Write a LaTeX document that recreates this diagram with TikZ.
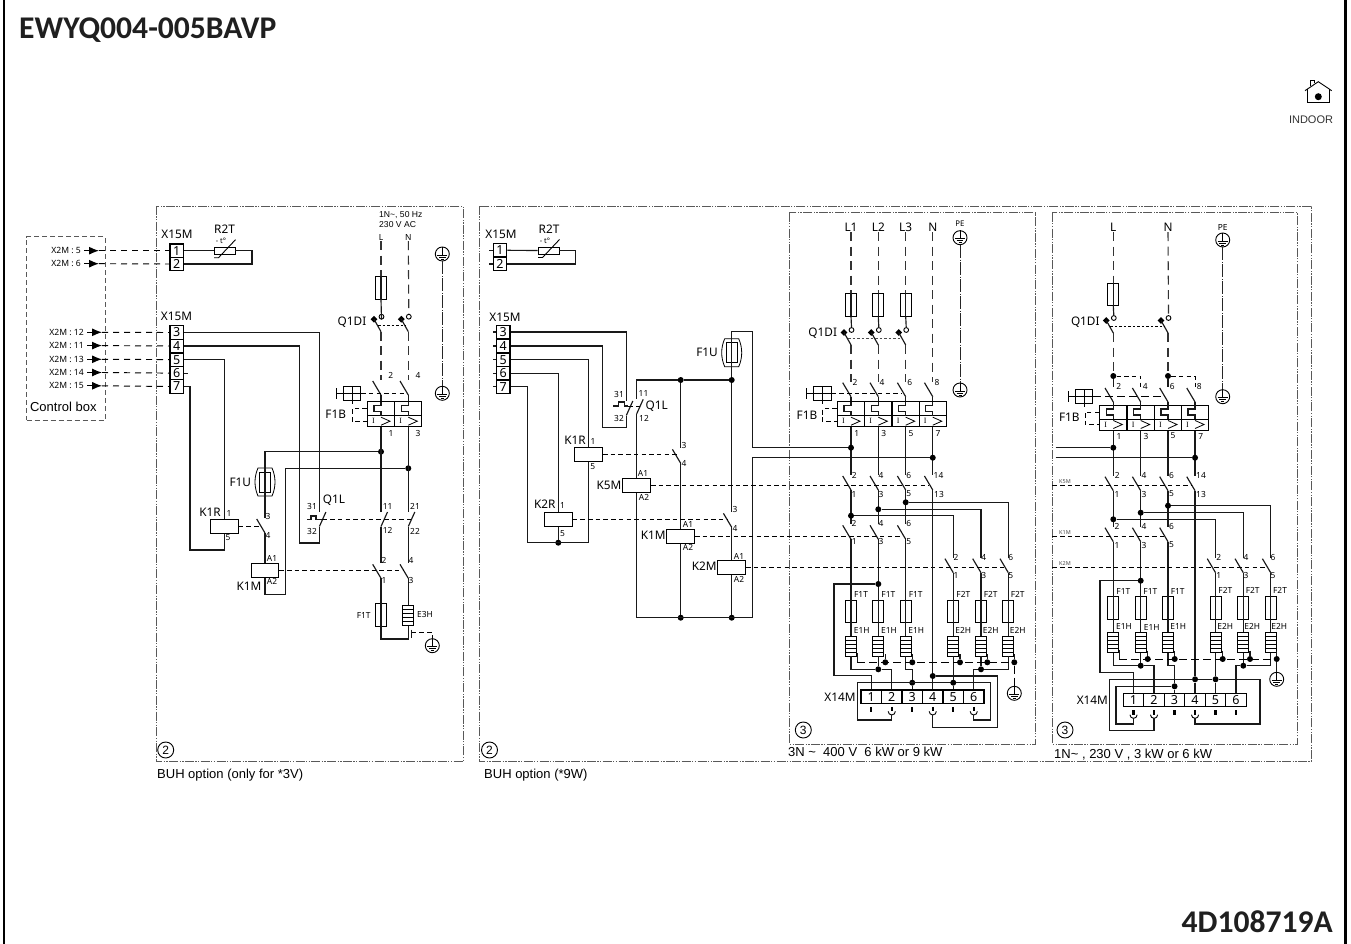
\documentclass[tikz,border=0pt]{standalone}
\usepackage{fontspec}
\setmainfont{Liberation Sans}
\newfontfamily\schem{Noto Sans}
\newfontfamily\heading{Carlito}
\newfontfamily\serifcap{Liberation Serif}
\usetikzlibrary{arrows.meta,shapes.geometric}

\definecolor{framegray}{gray}{0.35}
\tikzset{
	wire/.style={line width=1.15pt,draw=black!90},
	ctrldash/.style={line width=0.95pt,draw=black,dash pattern=on 4.5pt off 3.2pt},
	sigdash/.style={line width=0.95pt,draw=black,dash pattern=on 6pt off 5pt},
	longdash/.style={line width=1.1pt,draw=black!80,dash pattern=on 9pt off 5.5pt},
	peline/.style={line width=1pt,draw=black!85,dash pattern=on 13pt off 1.5pt on 1pt off 1.5pt},
	panel/.style={line width=0.8pt,draw=framegray,dash pattern=on 9pt off 1.4pt on 1.3pt off 1.4pt on 1.3pt off 1.4pt},
	termbox/.style={draw,line width=1.2pt,inner sep=0pt,minimum width=13.4pt,minimum height=13.4pt,font=\schem\fontsize{12.5}{12.5}\selectfont},
	stripbox/.style={draw,line width=1.2pt,inner sep=0pt,minimum width=20.5pt,minimum height=13.3pt,font=\schem\fontsize{12.5}{12.5}\selectfont},
	coilbox/.style={draw,line width=1.05pt,inner sep=0pt,minimum width=27.6pt,minimum height=14pt},
	fusebox/.style={draw,line width=0.85pt,inner sep=0pt,minimum width=11pt,minimum height=22.3pt},
	heatbox/.style={draw,line width=0.85pt,inner sep=0pt,minimum width=11pt,minimum height=20pt},
	brkbox/.style={draw,line width=1pt,inner sep=0pt,minimum width=27.3pt},
	earthbox/.style={draw,circle,line width=0.9pt,inner sep=0pt,minimum size=14pt},
	dot/.style={circle,fill=black,inner sep=0pt,minimum size=6pt},
	qcup/.style={draw,circle,line width=0.9pt,inner sep=0pt,minimum size=4.8pt},
	qdiam/.style={diamond,fill=black,inner sep=0pt,minimum size=7pt},
	biglab/.style={inner sep=0pt,font=\schem\fontsize{11.8}{12}\selectfont},
	numlab/.style={inner sep=0pt,font=\schem\fontsize{8.4}{9}\selectfont},
	tinylab/.style={inner sep=0pt,text=black!70,font=\schem\fontsize{5.5}{6}\selectfont},
	xmlab/.style={anchor=east,inner sep=3pt,font=\schem\fontsize{8.6}{9}\selectfont},
	arial/.style={inner sep=0pt,font=\fontsize{13}{14}\selectfont},
	arialsm/.style={inner sep=0pt,font=\fontsize{8.6}{9}\selectfont},
	sigtip/.style={line width=1pt,-{Latex[length=10pt,width=8pt]}},
	circnum/.style={draw,circle,line width=0.9pt,inner sep=0pt,minimum size=16pt,font=\fontsize{12}{12}\selectfont},
}

% symbols
\newcommand{\contactsw}[3]{
	\coordinate (#1) at (#2,#3);
	\coordinate (#1-u) at (#2,#3-15);
	\coordinate (#1-m) at (#2-4,#3-7);
	\draw[wire] (#1) -- (#2-8.3,#3-14);
}
\newcommand{\contactnc}[3]{
	\coordinate (#1) at (#2,#3);
	\coordinate (#1-l) at (#2,#3+14.5);
	\coordinate (#1-m) at (#2+3,#3+7.5);
	\draw[wire] (#2+6.5,#3) -- (#1-l);
}
\newcommand{\qswitch}[3]{
	\node[qcup] (#1) at (#2+0.5,#3) {};
	\node[qdiam] (#1-k) at (#2-7,#3+2.5) {};
	\coordinate (#1-b) at (#2,#3+15);
	\coordinate (#1-m) at (#2-3,#3+8.5);
	\draw[wire] (#1-k.center) -- (#1-b);
}
\newcommand{\brkpole}[3]{
	\node[brkbox,minimum height=14pt] (#1-a) at (#2,#3+7) {};
	\node[brkbox,minimum height=11pt] (#1-b) at (#2,#3+19.5) {};
	\node[inner sep=0pt,font=\serifcap\fontsize{8}{8}\selectfont] (#1-i) at (#2-7.5,#3+19.5) {I};
	\draw[wire] (#2,#3) -- ++(0,4) -- ++(-7,0) -- ++(0,6) -- ++(7,0) -- ++(0,4);
	\draw[line width=0.8pt] (#2,#3+15.5) -- ++(9,4) -- ++(-9,4);
}
\newcommand{\fusebar}[3]{
	\node[fusebox] (#1) at (#2,#3) {};
	\draw[wire] (#1.north) -- (#1.south);
}
\newcommand{\heatbar}[3]{
	\node[heatbox] (#1) at (#2,#3) {};
	\foreach \h in {-6,-2,2,6} \draw[line width=0.8pt] (#2-5.5,#3+\h) -- (#2+5.5,#3+\h);
}
\newcommand{\earthsym}[3]{
	\node[earthbox] (#1) at (#2,#3) {};
	\draw[line width=0.8pt] (#1.north) -- (#2,#3+1);
	\draw[line width=0.8pt] (#2-5,#3+1) -- (#2+5,#3+1);
	\draw[line width=0.8pt] (#2-3.3,#3+3) -- (#2+3.3,#3+3);
	\draw[line width=0.8pt] (#2-1.5,#3+5) -- (#2+1.5,#3+5);
}
\newcommand{\handlebox}[3]{
	\node[draw,line width=0.9pt,inner sep=0pt,minimum width=17.4pt,minimum height=14pt] (#1) at (#2,#3) {};
	\draw[line width=0.9pt] (#2,#3-7) -- (#2,#3+10);
	\draw[line width=0.9pt] (#1.west) -- (#1.east);
	\draw[line width=0.9pt] (#1.west) -- ++(-6.5,0) ++(0,-5.5) -- ++(0,11);
}
\newcommand{\fuseu}[3]{
	\node[draw,line width=0.9pt,inner sep=0pt,minimum width=11pt,minimum height=20pt] (#1) at (#2,#3) {};
	\draw[line width=0.8pt] (#2-7,#3-14) .. controls (#2-11,#3-5) and (#2-11,#3+5) .. (#2-7,#3+14) -- (#2+7,#3+14) .. controls (#2+11,#3+5) and (#2+11,#3-5) .. (#2+7,#3-14) -- cycle;
	\draw[wire] (#1.north) -- (#1.south);
}
\newcommand{\rtherm}[3]{
	\node[draw,line width=0.9pt,inner sep=0pt,minimum width=21pt,minimum height=7pt] (#1) at (#2,#3) {};
	\draw[line width=0.9pt] (#2-10.5,#3+7) -- (#2-6,#3+7) -- (#2+11,#3-11);
	\node[inner sep=0pt,font=\schem\fontsize{7.5}{8}\selectfont] (#1-t) at (#2-3.5,#3-9.5) {- t°};
}
\newcommand{\stubterm}[1]{
	\draw[line width=2.2pt] (#1.south) ++(0,3) -- ++(0,5);
}
\newcommand{\cupterm}[2]{
	\draw[line width=2.2pt] (#2.south) ++(0,3) -- ++(0,4.5);
	\draw[line width=0.9pt] (#2.south) ++(-3.6,7.5) arc[start angle=180,end angle=360,radius=3.6pt];
	\coordinate (#1) at ([yshift=-11pt]#2.south);
}

\begin{document}
\begin{tikzpicture}[x=1pt,y=-1pt]
	\useasboundingbox (0,0) rectangle (1351,944);
	\fill[white] (0,0) rectangle (1351,944);
	% sheet
	\coordinate (sheetla) at (4,0);
	\coordinate (sheetlb) at (4,944);
	\coordinate (sheetra) at (1345.5,0);
	\coordinate (sheetrb) at (1345.5,944);
	\draw[line width=2pt] (sheetla) -- (sheetlb);
	\draw[line width=3pt] (sheetra) -- (sheetrb);
	\node[anchor=west,inner sep=0pt,text=black!88,font=\heading\bfseries\fontsize{31.6}{32}\selectfont] (title) at (19,30.5) {EWYQ004-005BAVP};
	\node[anchor=east,inner sep=0pt,text=black!88,font=\heading\bfseries\fontsize{31.6}{32}\selectfont] (docnum) at (1333,922) {4D108719A};
	% house
	\draw[line width=0.9pt] (1307.5,89) -- (1307.5,102.7) -- (1329.3,102.7) -- (1329.3,89);
	\draw[line width=0.9pt] (1305,90.7) -- (1318.3,81.7) -- (1331.7,90.7);
	\draw[line width=0.8pt] (1310,86) -- (1310,80.7) -- (1314.3,80.7) -- (1314.3,83.5);
	\node[circle,fill=black,inner sep=0pt,minimum size=7pt] (housedot) at (1318.3,96.7) {};
	\node[inner sep=0pt,text=black!80,font=\fontsize{11}{11}\selectfont] (indoor) at (1311,119.5) {INDOOR};

	% panels
	\node[panel,draw,dash pattern=on 5pt off 3pt,line width=0.8pt,minimum width=78.6pt,minimum height=183.3pt,inner sep=0pt] (ctrlbox) at (66,328.3) {};
	\node[arial] (ctrltxt) at (63.3,406.7) {Control box};
	\draw[panel] (156,206) rectangle (463,761.7);
	\draw[panel] (479,206) rectangle (1311,761.7);
	\draw[panel] (789.3,212.7) rectangle (1035.7,744);
	\draw[panel] (1052.3,212.7) rectangle (1297.7,744);
	\node[arial,anchor=west] (buha) at (157,775) {BUH option (only for *3V)};
	\node[arial,anchor=west] (buhb) at (484,775) {BUH option (*9W)};
	\node[arial,anchor=west] (sizec) at (788,752) {3N \textasciitilde{}\ \ 400 V\ \ 6 kW or 9 kW};
	\node[arial,anchor=west] (sized) at (1054,754.5) {1N\textasciitilde{} , 230 V , 3 kW or 6 kW};
	\node[circnum] (circa) at (165.7,750) {2};
	\node[circnum] (circb) at (489.5,750) {2};
	\node[circnum] (circc) at (803.3,730) {3};
	\node[circnum] (circd) at (1065,730) {3};

	% ---------- left panel
	\foreach \n/\y in {1/250.7,2/264,3/332.5,4/346,5/359.6,6/373.1,7/386.5}
		\node[termbox] (a\n) at (176.7,\y) {\n};
	\foreach \n/\x/\y/\t in {1/84/250.7/5,2/84/263.7/6,3/87/332.3/12,4/87/345.6/11,5/87/359.3/13,6/87/372.5/14,7/87/385.8/15}{
		\node[xmlab] (xm\n) at (\x,\y) {X2M : \t};
		\coordinate (tip\n) at (\x+15,\y);
		\draw[sigtip] (xm\n.east) -- (tip\n);
		\draw[sigdash] (tip\n) -- (a\n.west);
	}
	\foreach \x/\y/\t [count=\i] in {177/234.5/X15M,176.5/316.5/X15M,224.5/229/R2T,240.3/482/F1U,334/500.7/Q1L,210/512.7/K1R,249/586.7/K1M,352/322.7/Q1DI,335.7/414.5/F1B}
		\node[biglab] (abig\i) at (\x,\y) {\t};
	\foreach \x/\y/\t [count=\i] in {390.7/375/2,418/375/4,391/433/1,418/433/3,229/513/1,228/538/5,268/516/3,268/535/4,272/558/A1,272/581/A2,312/506/31,312/531/32,387.7/506/11,387.7/530.7/12,415/506/21,415/531/22,384/560/2,411/560/4,384/580/1,411/580/3,363.7/615/F1T,425/614.7/E3H}
		\node[numlab] (anum\i) at (\x,\y) {\t};
	\node[arialsm,anchor=west] (asupa) at (379,215) {1N\textasciitilde{}, 50 Hz};
	\node[arialsm,anchor=west] (asupb) at (379,225) {230 V AC};
	\node[numlab] (aL) at (381,238) {L};
	\node[numlab] (aN) at (408.3,238) {N};
	% thermistor
	\rtherm{ar}{224.5}{250.7}
	\coordinate (arc) at (252,250.7);
	\draw[wire] (a1.east) -- (ar.west);
	\draw[wire] (ar.east) -- (arc) |- (a2.east);
	% supply
	\fusebar{af}{381}{288}
	\qswitch{aqa}{381}{316.7}
	\qswitch{aqb}{408.3}{316.7}
	\draw[ctrldash,dash pattern=on 2.5pt off 2pt] (aqa-m) -- (aqb-m);
	\contactsw{asa}{381}{395}
	\contactsw{asb}{408.3}{395}
	\draw[longdash] (aL.south) -- (af.north);
	\draw[wire] (af.south) -- (aqa.south);
	\draw[longdash] (aN.south) -- (aqb.north);
	\draw[longdash] (aqa-b) -- (asa-u);
	\draw[longdash] (aqb-b) -- (asb-u);
	\brkpole{apa}{381}{401.7}
	\brkpole{apb}{408.3}{401.7}
	\draw[wire] (asa) -- (apa-a.north);
	\draw[wire] (asb) -- (apb-a.north);
	\handlebox{ah}{352}{393.7}
	\draw[ctrldash] (ah.east) -- (asb-m |- ah.east);
	\coordinate (abr) at (352,414);
	\draw[ctrldash] (apa-a.west) -| (abr) |- (apa-b.west);
	% earth
	\earthsym{aea}{442.3}{254}
	\earthsym{aeb}{442.3}{393.3}
	\draw[peline] (aea.south) -- (aeb.north);
	% thermal and power lines
	\node[dot] (ada) at (381,451.7) {};
	\node[dot] (adb) at (408.3,468.3) {};
	\contactnc{ana}{381}{512}
	\contactnc{anb}{408.3}{512}
	\draw[wire] (apa-b.south) -- (ana);
	\draw[wire] (apb-b.south) -- (anb);
	\contactsw{aka}{381}{578.3}
	\contactsw{akb}{408.3}{578.3}
	\draw[wire] (ana-l) -- (aka-u);
	\draw[wire] (anb-l) -- (akb-u);
	\fusebar{aft}{381}{615}
	\heatbar{ahe}{408.3}{615.3}
	\draw[wire] (aka) -- (aft.north);
	\draw[wire] (akb) -- (ahe.north);
	\coordinate (ahc) at (408.3,639);
	\draw[wire] (aft.south) |- (ahc) -- (ahe.south);
	\coordinate (aet) at (411.7,632.5);
	\earthsym{aec}{432.3}{645.7}
	\draw[wire] (411.7,629.5) -- (411.7,638);
	\draw[ctrldash] (aet) -| (aec.north);
	% control lines
	\contactnc{aql}{319.4}{512}
	\coordinate (aqc) at (299.3,543);
	\draw[wire] (a3.east) -| (aql);
	\draw[wire] (a4.east) -| (aqc) -| (aql-l);
	\coordinate (ath) at (307,519.5);
	\draw[wire] (ath) -- ++(4,0) -- ++(0,-3.5) -- ++(5,0) -- ++(0,3.5) -- ++(5.5,0);
	\draw[ctrldash] (aql-m |- ana-m) -- (anb-m);
	\node[coilbox] (ak1r) at (224.3,526.3) {};
	\coordinate (akl) at (190,550);
	\draw[wire] (a5.east) -| (ak1r.north);
	\draw[wire] (a7.east) -| (akl) -| (ak1r.south);
	\draw[wire] (a6.east) -- ++(4,0);
	\fuseu{afu}{265}{482}
	\draw[wire] (ada) -| (afu.north);
	\contactsw{ac3}{265}{533}
	\draw[wire] (afu.south) -- (ac3-u);
	\node[coilbox] (ak1m) at (265,570.3) {};
	\draw[wire] (ac3) -- (ak1m.north);
	\coordinate (akr) at (285.7,594.3);
	\draw[wire] (ak1m.south) |- (akr) |- (adb);
	\draw[ctrldash] (ak1r.east) -- (ac3-m |- ak1r.east);
	\draw[ctrldash] (ak1m.east) -- (akb-m |- ak1m.east);

	% ---------- middle panel
	\foreach \n/\y in {1/250.3,2/264}{
		\node[termbox] (b\n) at (500,\y) {\n};
		\draw[wire] (b\n.west) -- ++(-3.5,0);
	}
	\foreach \n/\y in {3/332,4/346,5/359.6,6/373.3,7/386.8}{
		\node[termbox] (b\n) at (503.3,\y) {\n};
		\draw[wire] (b\n.west) -- ++(-3.5,0);
	}
	\foreach \x/\y/\t [count=\i] in {501/234/X15M,505/317.5/X15M,549/229.5/R2T,656.7/406.7/Q1L,575/440.7/K1R,544.7/504.3/K2R,609/485.5/K5M,653.3/535.5/K1M,704.3/566.5/K2M,707/352.7/F1U}
		\node[biglab] (bbig\i) at (\x,\y) {\t};
	\foreach \x/\y/\t [count=\i] in {593/441/1,592.7/467/5,562.5/505.7/1,562.5/533.7/5,619/394/31,619/418/32,643.5/393/11,644/418/12,684/445/3,684/463.5/4,643/473.5/A1,644/497.5/A2,688/524/A1,688/547.5/A2,735/509.5/3,735/528/4,739/556/A1,739/579/A2}
		\node[numlab] (bnum\i) at (\x,\y) {\t};
	\rtherm{br}{548.5}{250.5}
	\coordinate (brc) at (575.7,250.5);
	\draw[wire] (b1.east) -- (br.west);
	\draw[wire] (br.east) -- (brc) |- (b2.east);
	% coils
	\node[coilbox] (bk1r) at (588.7,454.7) {};
	\node[coilbox] (bk2r) at (558.3,519.7) {};
	\node[coilbox] (bk5m) at (636.7,485.3) {};
	\node[coilbox] (bk1m) at (680.7,536.3) {};
	\node[coilbox] (bk2m) at (731.7,567.3) {};
	\node[dot] (bdr) at (558.3,542.7) {};
	\coordinate (bcl) at (527.7,542.7);
	\coordinate (bcr) at (588.7,542.7);
	\draw[wire] (b5.east) -| (bk1r.north);
	\draw[wire] (b6.east) -| (bk2r.north);
	\draw[wire] (bk2r.south) -- (bdr);
	\draw[wire] (b7.east) -| (bcl) -- (bcr) -- (bk1r.south);
	% overload relay
	\contactnc{bql}{626.3}{401}
	\contactnc{bqn}{636.7}{399.3}
	\coordinate (bqc) at (602.3,427.7);
	\draw[wire] (b3.east) -| (bql);
	\draw[wire] (b4.east) -| (bqc) -| (bql-l);
	\coordinate (bth) at (613.3,406);
	\draw[wire] (bth) -- ++(5.5,0) -- ++(0,-4) -- ++(5.5,0) -- ++(0,4) -- ++(4,0);
	\coordinate (bte) at (628.3,406);
	\draw[ctrldash] (bte) -- (bqn-m |- bte);
	% feed
	\node[dot] (bda) at (680.7,380) {};
	\node[dot] (bdb) at (731.7,380) {};
	\draw[wire] (bdb) -- (bda) -| (bqn);
	\draw[wire] (bqn-l) -- (bk5m.north);
	\contactsw{bca}{680.7}{463.3}
	\contactsw{bcb}{731.7}{527.3}
	\draw[wire] (bda) -- (bca-u);
	\draw[wire] (bdb) -- (bcb-u);
	\draw[wire] (bca) -- (bk1m.north);
	\draw[wire] (bcb) -- (bk2m.north);
	\fuseu{bfu}{731.7}{352.7}
	\draw[wire] (bdb) -- (bfu.south);
	\coordinate (bft) at (752.3,331.7);
	\coordinate (bfb) at (752.3,617.7);
	\node[dot] (bra) at (680.7,617.7) {};
	\node[dot] (brb) at (731.7,617.7) {};
	\draw[wire] (bk5m.south) |- (bfb);
	\draw[wire] (bk1m.south) -- (bra);
	\draw[wire] (bk2m.south) -- (brb);
	\draw[ctrldash] (bk1r.east) -- (bca-m |- bk1r.east);
	\draw[ctrldash] (bk2r.east) -- (bcb-m |- bk2r.east);

	% ---------- 3N panel
	\foreach \n/\x/\t in {1/851/L1,2/878.3/L2,3/905.7/L3}{
		\node[biglab] (cL\n) at (\x,227.7) {\t};
		\fusebar{cf\n}{\x}{304.8}
		\qswitch{cq\n}{\x}{330}
		\draw[longdash] (cL\n.south) -- (cf\n.north);
		\draw[wire] (cf\n.south) -- (cq\n.north);
	}
	\node[biglab] (cL4) at (932.75,227.7) {N};
	\draw[ctrldash,dash pattern=on 2.5pt off 2pt,draw=black!70] (cq1-m) -- (cq3-m);
	\foreach \n/\x in {1/851,2/878.3,3/905.7,4/932.75}{
		\contactsw{cs\n}{\x}{396.7}
		\brkpole{cp\n}{\x}{401.7}
		\draw[wire] (cs\n) -- (cp\n-a.north);
		\contactsw{cr\n}{\x}{490}
		\draw[wire] (cp\n-b.south) -- (cr\n-u);
	}
	\foreach \n in {1,2,3} \draw[longdash] (cq\n-b) -- (cs\n-u);
	\draw[longdash] (cL4.south) -- (cs4-u);
	\handlebox{ch}{822.5}{393.7}
	\draw[ctrldash] (ch.east) -- (cs3-m |- ch.east);
	\coordinate (cbr) at (822.3,414);
	\draw[ctrldash] (cp1-a.west) -| (cbr) |- (cp1-b.west);
	\node[inner sep=0pt,font=\schem\fontsize{7.8}{8}\selectfont] (cpe) at (960,224) {PE};
	\earthsym{cea}{960}{237.7}
	\earthsym{ceb}{960}{390}
	\draw[peline] (cea.south) -- (ceb.north);
	\node[biglab] (clq) at (822.7,333) {Q1DI};
	\node[biglab] (clf) at (807,415) {F1B};
	\node[biglab] (clx) at (840,697.3) {X14M};
	% feed from left panel
	\node[dot] (cdl) at (851,447.7) {};
	\node[dot] (cdn) at (932.75,457.7) {};
	\draw[wire] (bfu.north) |- (bft) |- (cdl);
	\draw[wire] (bfb) |- (cdn);
	% second row
	\foreach \n/\x in {1/851,2/878.3,3/905.7}{
		\contactsw{ck\n}{\x}{539.3}
		\draw[wire] (cr\n) -- (ck\n-u);
		\fusebar{cfa\n}{\x}{611.7}
		\heatbar{cha\n}{\x}{646}
		\draw[wire] (ck\n) -- (cfa\n.north);
		\draw[wire] (cfa\n.south) -- (cha\n.north);
	}
	\foreach \n/\x/\y in {1/953.25/515.7,2/981/509.3,3/1008.3/502.3}{
		\coordinate (cby\n) at (0,\y);
		\node[dot] (cb\n) at (cr\n |- cby\n) {};
		\contactsw{cm\n}{\x}{572.7}
		\draw[wire] (cb\n) -| (cm\n-u);
		\fusebar{cfb\n}{\x}{611.7}
		\heatbar{chb\n}{\x}{646}
		\draw[wire] (cm\n) -- (cfb\n.north);
		\draw[wire] (cfb\n.south) -- (chb\n.north);
	}
	\draw[ctrldash] (bk5m.east) -- (cr4-m |- bk5m.east);
	\draw[ctrldash] (bk1m.east) -- (ck3-m |- bk1m.east);
	\draw[ctrldash] (bk2m.east) -- (cm3-m |- bk2m.east);
	\foreach \x/\y/\t [count=\i] in {855/382.7/2,882/382.7/4,909.7/382.7/6,937/382.7/8,856.7/433.3/1,883.7/433.3/3,911/433.3/5,938/433.3/7,854.3/475/2,881/475/4,908.7/475/6,938.5/475/14,854/494/1,881/494/3,908.7/494/5,939/494/13,854/523.3/2,881/523.3/4,908.7/523.3/6,854.3/541.7/1,881/541.7/3,908.7/541.7/5,956/557.3/2,983.7/557.3/4,1010.7/557.3/6,956/575.7/1,983.7/575.7/3,1010.7/575.7/5,861/594.3/F1T,888.3/594.3/F1T,915.7/594.3/F1T,963.3/594.3/F2T,990.7/594.3/F2T,1017.7/594.3/F2T,861.7/630/E1H,889/630.7/E1H,916.3/630.7/E1H,963.3/630/E2H,990.7/630.7/E2H,1017.7/630.7/E2H}
		\node[numlab] (cnum\i) at (\x,\y) {\t};
	% terminal strip
	\foreach \n/\x in {1/871.25,2/891.75,3/912.25,4/932.75,5/953.25,6/973.75}
		\node[stripbox] (cx\n) at (\x,696.6) {\n};
	\stubterm{cx1}
	\stubterm{cx3}
	\stubterm{cx5}
	\cupterm{ccb}{cx2}
	\cupterm{ccd}{cx4}
	\cupterm{ccf}{cx6}
	\node[dot] (cdk) at (878.3,584) {};
	\coordinate (ccl) at (834,675.7);
	\draw[wire] (cdk) -| (ccl) -| (cx1.north);
	\node[dot] (cea2) at (878.3,669.3) {};
	\draw[wire] (cha1.south) |- (cea2) -| (cx2.north);
	\draw[wire] (cha2.south) -- (cea2);
	\coordinate (cm3c) at (905.7,669.3);
	\node[dot] (cdr) at (912.25,682.7) {};
	\draw[wire] (cha3.south) -- (cm3c) -| (cdr);
	\draw[wire] (cdr) -- (cx3.north);
	\coordinate (crl) at (857.7,720);
	\coordinate (crr) at (990.7,682.7);
	\coordinate (crb) at (973.75,720);
	\draw[wire] (ccb) |- (crl) |- (crr) |- (crb) -- (ccf);
	\node[dot] (cd5) at (953.25,682.7) {};
	\draw[wire] (chb1.south) -- (cd5) -- (cx5.north);
	\node[dot] (ceb2) at (981,669.3) {};
	\draw[wire] (chb3.south) |- (ceb2) -| (cx6.north);
	\draw[wire] (chb2.south) -- (ceb2);
	\node[dot] (cdq) at (932.75,676) {};
	\coordinate (cnc) at (997.7,727.3);
	\draw[wire] (cr4) -- (cdq) -- (cx4.north);
	\draw[wire] (cdq) -| (cnc) -| (ccd);
	% heater earth
	\coordinate (cga) at (857.3,662.3);
	\draw[wire] (857.3,653) -- (cga);
	\foreach \n/\x in {2/885.3,3/912.3,4/960,5/987.3,6/1014.3}{
		\node[dot] (cg\n) at (\x,662.3) {};
		\draw[wire] (\x,654) -- (cg\n);
	}
	\draw[ctrldash,dash pattern=on 8pt off 4pt] (cga) -- (cg6);
	\earthsym{cec}{1014.3}{693.3}
	\draw[ctrldash,dash pattern=on 8pt off 4pt] (cg6) -- (cec.north);

	% ---------- 1N panel
	\node[biglab] (dL1) at (1113.3,227.7) {L};
	\node[biglab] (dL2) at (1168,227.7) {N};
	\fusebar{df}{1113.3}{294.5}
	\qswitch{dqa}{1113.3}{318}
	\qswitch{dqb}{1168}{318}
	\draw[longdash] (dL1.south) -- (df.north);
	\draw[wire] (df.south) -- (dqa.north);
	\draw[longdash] (dL2.south) -- (dqb.north);
	\draw[ctrldash,dash pattern=on 2.5pt off 2pt] (dqa-m) -- (dqb-m);
	\foreach \n/\x in {1/1113.3,2/1140.7,3/1168,4/1195.05}{
		\contactsw{ds\n}{\x}{402}
		\brkpole{dp\n}{\x}{405}
		\draw[wire] (ds\n) -- (dp\n-a.north);
		\contactsw{dr\n}{\x}{490.7}
		\draw[wire] (dp\n-b.south) -- (dr\n-u);
	}
	\node[dot] (dja) at (1113.3,376) {};
	\node[dot] (djb) at (1168,376) {};
	\draw[longdash] (dqa-b) -- (dja);
	\draw[longdash] (dqb-b) -- (djb);
	\draw[wire] (dja) -- (ds1-u);
	\draw[wire] (djb) -- (ds3-u);
	\draw[ctrldash] (dja) -| (ds2-u);
	\draw[ctrldash] (djb) -| (ds4-u);
	\handlebox{dh}{1084.2}{396.7}
	\draw[ctrldash,dash pattern=on 8pt off 4pt] (dh.east) -- (ds3-m |- dh.east);
	\coordinate (dbr) at (1085,418);
	\draw[ctrldash] (dp1-a.west) -| (dbr) |- (dp1-b.west);
	\node[numlab] (dpe) at (1222.7,227.7) {PE};
	\earthsym{dea}{1222.7}{240}
	\earthsym{deb}{1222.7}{396.7}
	\draw[peline] (dea.south) -- (deb.north);
	\node[biglab] (dlq) at (1085.3,322) {Q1DI};
	\node[biglab] (dlf) at (1069.3,417.3) {F1B};
	\node[biglab] (dlx) at (1092.3,700.7) {X14M};
	\node[dot] (ddl) at (1113.3,447.7) {};
	\node[dot] (ddn) at (1195.05,457.7) {};
	\coordinate (dwa) at (1055.7,447.7);
	\coordinate (dwb) at (1055.7,457.7);
	\draw[wire] (dwa) -- (ddl);
	\draw[wire] (dwb) -- (ddn);
	% rows
	\foreach \n/\x in {1/1113.3,2/1140.7,3/1168}{
		\contactsw{dk\n}{\x}{541.7}
		\draw[wire] (dr\n) -- (dk\n-u);
		\fusebar{dfa\n}{\x}{608}
		\heatbar{dha\n}{\x}{642.5}
		\draw[wire] (dk\n) -- (dfa\n.north);
		\draw[wire] (dfa\n.south) -- (dha\n.north);
	}
	\foreach \n/\x/\y in {1/1215.55/519.3,2/1243.3/512.7,3/1270.7/505.7}{
		\coordinate (dby\n) at (0,\y);
		\node[dot] (db\n) at (dr\n |- dby\n) {};
		\contactsw{dm\n}{\x}{572.7}
		\draw[wire] (db\n) -| (dm\n-u);
		\fusebar{dfb\n}{\x}{608}
		\heatbar{dhb\n}{\x}{642.5}
		\draw[wire] (dm\n) -- (dfb\n.north);
		\draw[wire] (dfb\n.south) -- (dhb\n.north);
	}
	\coordinate (dka) at (1052.3,485.7);
	\coordinate (dkb) at (1052.3,536.7);
	\coordinate (dkc) at (1052.3,567.3);
	\draw[ctrldash] (dka) -- (dr4-m |- dka);
	\draw[ctrldash] (dkb) -- (dk3-m |- dkb);
	\draw[ctrldash] (dkc) -- (dm3-m |- dkc);
	\node[tinylab] (dta) at (1065,481.7) {K5M};
	\node[tinylab] (dtb) at (1065,532.3) {K1M};
	\node[tinylab] (dtc) at (1065,563.3) {K2M};
	\foreach \x/\y/\t [count=\i] in {1118.7/386/2,1145.3/386/4,1172.3/386/6,1199.3/386/8,1119/436/1,1146/436/3,1173/436/5,1200.7/436/7,1117.3/475/2,1144/475/4,1171.5/475/6,1201/475/14,1117/494/1,1144/494/3,1171.5/494/5,1201/494/13,1117/526.7/2,1144/526.7/4,1171.5/526.7/6,1117/545/1,1144/545/3,1171.5/545/5,1218.7/557.3/2,1246/557.3/4,1273/557.3/6,1218.7/575.7/1,1246/575.7/3,1273/575.7/5,1123.3/591.7/F1T,1150.3/591.7/F1T,1177.7/591.7/F1T,1225.3/590.7/F2T,1252.7/590.7/F2T,1280/590.7/F2T,1124/626.7/E1H,1151.7/627.3/E1H,1178.3/626.7/E1H,1225.3/626.7/E2H,1252.3/626.7/E2H,1279.3/626.7/E2H}
		\node[numlab] (dnum\i) at (\x,\y) {\t};
	% terminal strip
	\foreach \n/\x in {1/1133.55,2/1154.05,3/1174.55,4/1195.05,5/1215.55,6/1236.05}
		\node[stripbox] (dx\n) at (\x,700) {\n};
	\stubterm{dx3}
	\stubterm{dx5}
	\stubterm{dx6}
	\cupterm{dca}{dx1}
	\cupterm{dcb}{dx2}
	\cupterm{dcd}{dx4}
	\node[dot] (ddk) at (1140.7,580.7) {};
	\coordinate (dcl) at (1100,672.3);
	\draw[wire] (ddk) -| (dcl) -| (dx1.north);
	\node[dot] (dea2) at (1140.7,665.7) {};
	\draw[wire] (dha1.south) |- (dea2) -| (dx2.north);
	\draw[wire] (dha2.south) -- (dea2);
	\coordinate (dm3c) at (1168,665.7);
	\node[dot] (ddr) at (1174.55,686.3) {};
	\draw[wire] (dha3.south) -- (dm3c) -| (ddr);
	\draw[wire] (ddr) -- (dx3.north);
	\coordinate (dra) at (1116,686.3);
	\coordinate (drb) at (1133.55,724);
	\draw[wire] (ddr) -- (dra) |- (drb) -- (dca);
	\node[dot] (dq4) at (1195.05,679.3) {};
	\node[dot] (dq5) at (1215.55,679.3) {};
	\coordinate (drl) at (1109.3,730.7);
	\coordinate (drr) at (1260,724);
	\coordinate (drs) at (1195.05,724);
	\draw[wire] (dcb) |- (drl) |- (dq4) -- (dq5) -| (drr) -- (drs) -- (dcd);
	\draw[wire] (dr4) -- (dq4) -- (dx4.north);
	\draw[wire] (dhb1.south) -- (dq5) -- (dx5.north);
	\node[dot] (deb2) at (1243.3,665.7) {};
	\draw[wire] (dhb3.south) |- (deb2) -| (dx6.north);
	\draw[wire] (dhb2.south) -- (deb2);
	% heater earth
	\coordinate (dga) at (1119.3,659);
	\draw[wire] (1119.3,650) -- (dga);
	\foreach \n/\x in {2/1147.7,3/1174.7,4/1222.7,5/1250,6/1276.7}{
		\node[dot] (dg\n) at (\x,659) {};
		\draw[wire] (\x,650.5) -- (dg\n);
	}
	\draw[ctrldash,dash pattern=on 8pt off 4pt] (dga) -- (dg6);
	\earthsym{dec}{1276.7}{679.3}
	\draw[wire] (dg6) -- (dec.north);
\end{tikzpicture}
\end{document}
